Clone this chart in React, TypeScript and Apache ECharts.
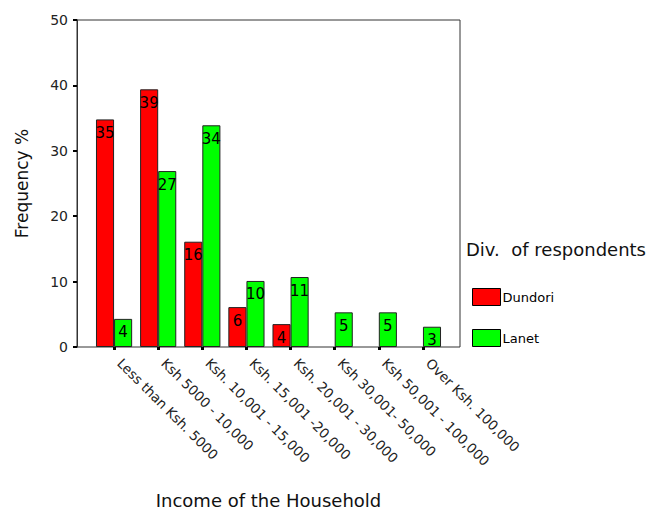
import React, { useEffect, useRef } from "react";
import * as echarts from "echarts";

const categories = [
  "Less than Ksh. 5000",
  "Ksh 5000 - 10,000",
  "Ksh. 10,001 - 15,000",
  "Ksh. 15,001 -20,000",
  "Ksh. 20,001 - 30,000",
  "Ksh 30,001- 50,000",
  "Ksh 50,001 - 100,000",
  "Over Ksh. 100,000",
];
const dundori: (number | null)[] = [34.8, 39.4, 16.1, 6.1, 3.5, null, null, null];
const lanet: (number | null)[] = [4.3, 26.9, 33.9, 10.1, 10.7, 5.3, 5.3, 3.1];
const seriesNames = ["Dundori", "Lanet"];
const legendTitle = "Div.  of respondents";
const yName = "Frequency %";
const xName = "Income of the Household";

const FONT = "'DejaVu Sans', Verdana, sans-serif";

export default function App() {
  const ref = useRef<HTMLDivElement>(null);
  useEffect(() => {
    if (!ref.current) return;
    const chart = echarts.init(ref.current, undefined, { renderer: "svg" });
    const label = {
      show: true,
      position: "insideTop" as const,
      distance: 6,
      color: "#000",
      fontSize: 15,
      fontFamily: FONT,
      formatter: (p: any) => (p.value == null ? "" : String(Math.round(p.value))),
    };
    chart.setOption({
      animation: false,
      backgroundColor: "#fff",
      textStyle: { fontFamily: FONT },
      title: {
        text: legendTitle,
        left: 461,
        top: 235,
        textStyle: { fontSize: 18, fontWeight: "normal", color: "#111", fontFamily: FONT },
      },
      legend: {
        orient: "vertical",
        left: 467,
        top: 283,
        icon: "rect",
        itemWidth: 28,
        itemHeight: 17,
        itemGap: 23,
        data: seriesNames,
        textStyle: { fontSize: 13, color: "#000", fontFamily: FONT, padding: [0, 0, 0, -3] },
        itemStyle: { borderColor: "#000", borderWidth: 1 },
      },
      grid: { left: 92, right: 217, top: 20, bottom: 162, containLabel: false, outerBoundsMode: "none" },
      xAxis: {
        type: "category",
        data: categories,
        name: xName,
        nameLocation: "middle",
        nameGap: 144,
        nameTextStyle: { fontSize: 18, color: "#111", fontFamily: FONT },
        axisLine: { show: false },
        axisTick: { show: true, alignWithLabel: true, length: 3, lineStyle: { color: "#000", width: 3 } },
        axisLabel: {
          rotate: -45,
          interval: 0,
          margin: 8,
          padding: [0, 0, 0, 8],
          fontSize: 13.5,
          color: "#222",
          fontFamily: FONT,
        },
      },
      yAxis: {
        type: "value",
        min: 0,
        max: 50,
        interval: 10,
        offset: 15,
        name: yName,
        nameLocation: "middle",
        nameGap: 47,
        nameTextStyle: { fontSize: 17, color: "#111", fontFamily: FONT },
        splitLine: { show: false },
        axisLine: { show: true, lineStyle: { color: "#333", width: 1 } },
        axisTick: { show: true, length: 4, lineStyle: { color: "#000", width: 2 } },
        axisLabel: { fontSize: 14, color: "#222", margin: 9, fontFamily: FONT },
      },
      graphic: [
        {
          type: "rect",
          shape: { x: 77, y: 20, width: 383, height: 327 },
          style: { fill: "none", stroke: "#333", lineWidth: 1 },
          z: 0,
        },
      ],
      series: [
        {
          name: seriesNames[0],
          type: "bar",
          data: dundori,
          barGap: "0%",
          barCategoryGap: "18%",
          itemStyle: { color: "#ff0000", borderColor: "#222", borderWidth: 1 },
          label,
        },
        {
          name: seriesNames[1],
          type: "bar",
          data: lanet,
          barGap: "0%",
          barCategoryGap: "18%",
          itemStyle: { color: "#00ff00", borderColor: "#222", borderWidth: 1 },
          label,
        },
      ],
    });
    return () => chart.dispose();
  }, []);
  return (
    <div
      ref={ref}
      style={{ position: "fixed", left: 0, top: 0, width: 662, height: 509 }}
    />
  );
}
